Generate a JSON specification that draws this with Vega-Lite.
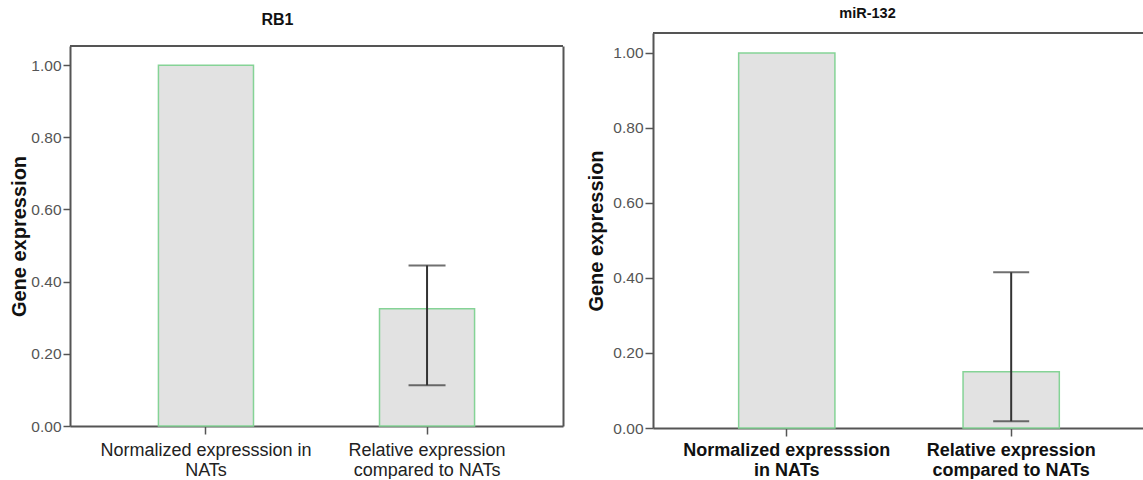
{
  "$schema": "https://vega.github.io/schema/vega-lite/v6.json",
  "background": "white",
  "padding": {"left": 9, "top": 5, "right": 0, "bottom": 0},
  "config": {
    "font": "Liberation Sans",
    "view": {"stroke": null},
    "axis": {"domainColor": "#555", "domainWidth": 2, "tickColor": "#555", "tickWidth": 1.5, "grid": false, "labelFont": "Liberation Sans", "titleFont": "Liberation Sans"},
    "concat": {"spacing": 22}
  },
  "datasets": {
    "rb1": [
      {"group": "Normalized expresssion in NATs", "expression": 1.0, "lower": null, "upper": null},
      {"group": "Relative expression compared to NATs", "expression": 0.325, "lower": 0.113, "upper": 0.445}
    ],
    "mir132": [
      {"group": "Normalized expresssion in NATs", "expression": 1.0, "lower": null, "upper": null},
      {"group": "Relative expression compared to NATs", "expression": 0.15, "lower": 0.018, "upper": 0.415}
    ]
  },
  "hconcat": [
    {
      "width": 493,
      "height": 393,
      "data": {"name": "rb1"},
      "title": {"text": "RB1", "fontSize": 16, "fontWeight": "bold", "color": "#111", "baseline": "alphabetic", "offset": -8, "dx": -39},
      "layer": [
        {
          "mark": {"type": "bar", "fill": "#e2e2e2", "stroke": "#85d396", "strokeWidth": 1.5},
          "encoding": {
            "x": {"field": "group", "type": "nominal", "sort": null,
              "scale": {"paddingInner": 0.57, "paddingOuter": 0.4},
              "axis": {"title": null, "labelAngle": 0, "labelFontSize": 18, "labelColor": "#222", "labelLineHeight": 20, "labelPadding": 7, "tickSize": 8, "labelLimit": 400,
                "labelExpr": "datum.value == 'Normalized expresssion in NATs' ? ['Normalized expresssion in', 'NATs'] : ['Relative expression', 'compared to NATs']"}},
            "y": {"field": "expression", "type": "quantitative",
              "scale": {"domain": [0, 1.053], "range": [393, 13], "nice": false, "zero": true},
              "axis": {"orient": "left", "values": [0, 0.2, 0.4, 0.6, 0.8, 1.0], "format": ".2f", "labelFontSize": 15.5, "labelColor": "#555", "tickSize": 7, "labelPadding": 2,
                "title": "Gene expression", "titleFontSize": 20, "titleFontWeight": "bold", "titleColor": "#111", "titlePadding": 1}}
          }
        },
        {
          "mark": {"type": "rule", "color": "#333", "strokeWidth": 2},
          "encoding": {
            "x": {"field": "group", "type": "nominal", "sort": null},
            "y": {"field": "lower", "type": "quantitative",
              "axis": {"orient": "right", "labels": false, "ticks": false, "title": null, "domain": true}},
            "y2": {"field": "upper"}
          }
        },
        {
          "mark": {"type": "tick", "color": "#333", "size": 37, "thickness": 2},
          "encoding": {
            "x": {"field": "group", "type": "nominal", "sort": null},
            "y": {"field": "lower", "type": "quantitative", "axis": null}
          }
        },
        {
          "mark": {"type": "tick", "color": "#333", "size": 37, "thickness": 2},
          "encoding": {
            "x": {"field": "group", "type": "nominal", "sort": null},
            "y": {"field": "upper", "type": "quantitative", "axis": null}
          }
        },
        {
          "mark": {"type": "rule", "color": "#555", "strokeWidth": 2},
          "encoding": {
            "y": {"datum": 1.053, "type": "quantitative", "axis": null}
          }
        }
      ],
      "resolve": {"axis": {"y": "independent"}}
    },
    {
      "width": 493,
      "height": 395,
      "data": {"name": "mir132"},
      "title": {"text": "miR-132", "fontSize": 14.5, "fontWeight": "bold", "color": "#111", "baseline": "alphabetic", "offset": 0, "dx": -32},
      "layer": [
        {
          "mark": {"type": "bar", "fill": "#e2e2e2", "stroke": "#85d396", "strokeWidth": 1.5},
          "encoding": {
            "x": {"field": "group", "type": "nominal", "sort": null,
              "scale": {"paddingInner": 0.571, "paddingOuter": 0.384, "align": 0.497},
              "axis": {"title": null, "labelAngle": 0, "labelFontSize": 18, "labelFontWeight": "bold", "labelColor": "#111", "labelLineHeight": 20, "labelPadding": 5, "tickSize": 8, "labelLimit": 400,
                "labelExpr": "datum.value == 'Normalized expresssion in NATs' ? ['Normalized expresssion', 'in NATs'] : ['Relative expression', 'compared to NATs']"}},
            "y": {"field": "expression", "type": "quantitative",
              "scale": {"domain": [0, 1.053], "nice": false, "zero": true},
              "axis": {"orient": "left", "values": [0, 0.2, 0.4, 0.6, 0.8, 1.0], "format": ".2f", "labelFontSize": 15.5, "labelColor": "#555", "tickSize": 8, "labelPadding": 2,
                "title": "Gene expression", "titleFontSize": 20, "titleFontWeight": "bold", "titleColor": "#111", "titlePadding": 6}}
          }
        },
        {
          "mark": {"type": "rule", "color": "#333", "strokeWidth": 2},
          "encoding": {
            "x": {"field": "group", "type": "nominal", "sort": null},
            "y": {"field": "lower", "type": "quantitative"},
            "y2": {"field": "upper"}
          }
        },
        {
          "mark": {"type": "tick", "color": "#333", "size": 36, "thickness": 2},
          "encoding": {
            "x": {"field": "group", "type": "nominal", "sort": null},
            "y": {"field": "lower", "type": "quantitative"}
          }
        },
        {
          "mark": {"type": "tick", "color": "#333", "size": 36, "thickness": 2},
          "encoding": {
            "x": {"field": "group", "type": "nominal", "sort": null},
            "y": {"field": "upper", "type": "quantitative"}
          }
        },
        {
          "mark": {"type": "rule", "color": "#555", "strokeWidth": 2},
          "encoding": {
            "y": {"datum": 1.053, "type": "quantitative"}
          }
        }
      ]
    }
  ]
}
